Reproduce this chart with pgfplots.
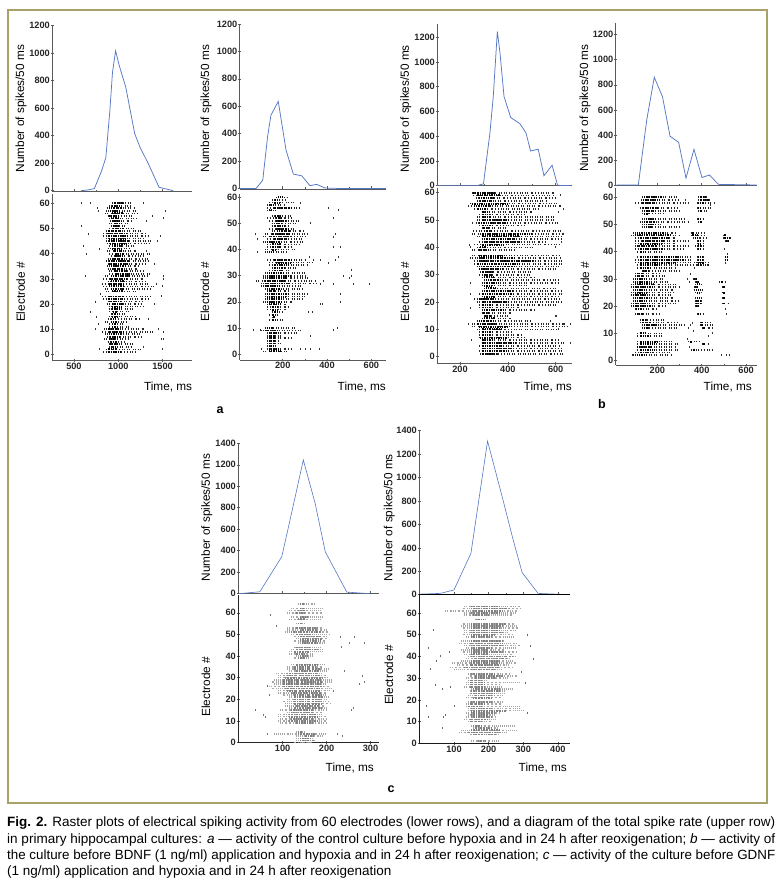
\documentclass[border=0pt]{standalone}
\usepackage{fontspec}
\setmainfont{Liberation Sans}
\usepackage{graphicx}
\usepackage{pgfplots}
\usepackage{pgfplotstable}
\pgfplotsset{compat=1.18}
\definecolor{frameol}{HTML}{A8A268}
\definecolor{rate}{HTML}{5578C4}
\pgfplotstableread[row sep=\\]{y a b c d\\
60 930 1140 950 1060\\ 59 890 1130 930 1020\\ 58 870 1180 900 1040\\ 57 860 1210 910 1020\\ 56 850 1230 930 1060\\
55 880 1180 900 1010\\ 54 900 1220 920 1000\\ 53 910 1150 930 1010\\ 52 890 1120 950 1040\\ 51 920 1080 940 1000\\
50 900 1180 940 1060\\ 49 860 1250 880 1030\\ 48 830 1320 870 1100\\ 47 830 1340 880 1110\\ 46 860 1300 900 1080\\
45 860 1380 900 1120\\ 44 870 1350 910 1090\\ 43 900 1200 950 1030\\ 42 880 1130 930 1040\\ 41 870 1200 950 1030\\
40 900 1360 960 1060\\ 39 920 1280 960 1050\\ 38 880 1330 930 1050\\ 37 860 1350 900 1130\\ 36 880 1320 900 1100\\
35 870 1250 920 1080\\ 34 880 1220 930 1060\\ 33 890 1300 950 1090\\ 32 900 1370 960 1130\\ 31 850 1340 920 1120\\
30 830 1300 910 1090\\ 29 880 1320 920 1060\\ 28 820 1340 900 1060\\ 27 830 1400 900 1060\\ 26 850 1370 920 1060\\
25 860 1200 930 1050\\ 23 820 1380 880 1070\\ 22 830 1370 880 1050\\ 21 880 1280 900 1030\\ 20 870 1270 930 1050\\
19 890 1300 930 1040\\ 18 890 1180 930 1020\\ 17 900 1120 940 990\\ 16 920 1080 930 1000\\ 15 890 1200 930 1000\\
14 880 1240 920 970\\ 13 850 1110 920 980\\ 12 900 1050 930 970\\ 11 900 1130 930 1000\\ 10 840 1290 880 1000\\
9 820 1400 890 1060\\ 8 850 1260 900 1020\\ 7 870 1290 910 1010\\ 6 840 1140 900 960\\ 5 880 1080 920 980\\
4 890 1180 910 990\\ 3 900 1150 920 970\\ 2 860 1250 880 990\\ 1 830 1200 880 1020\\
}\tabAa
\pgfplotstableread[row sep=\\]{y a b c d\\
60 170 220 180 200\\ 59 150 210 165 180\\ 58 140 250 160 190\\ 57 130 210 140 160\\ 56 130 280 160 240\\ 55 130 170 140 155\\
53 150 240 165 195\\ 52 130 250 170 200\\ 51 140 280 170 210\\ 50 150 260 170 200\\ 49 150 230 165 210\\ 48 140 260 170 230\\
47 150 300 175 235\\ 46 120 320 150 230\\ 45 110 310 140 230\\ 44 130 290 160 220\\ 43 110 300 130 190\\ 42 130 280 150 190\\
41 130 250 150 195\\ 40 120 260 150 170\\ 39 120 220 140 160\\ 36 130 300 160 240\\ 35 140 340 170 240\\ 34 140 310 160 230\\
33 150 270 160 210\\ 32 140 230 160 200\\ 31 120 300 140 210\\ 30 110 310 130 240\\ 29 110 320 130 220\\ 28 80 350 120 210\\
27 100 360 120 230\\ 26 100 290 120 190\\ 25 120 290 130 190\\ 24 130 230 140 170\\ 23 120 320 130 230\\ 22 120 300 130 210\\
21 120 290 130 200\\ 20 110 240 130 200\\ 19 130 220 140 190\\ 18 130 230 150 180\\ 17 130 220 150 180\\ 16 150 200 160 180\\
15 140 180 150 165\\ 14 150 170 155 165\\ 13 140 200 150 170\\ 10 120 260 130 160\\ 9 100 280 120 180\\ 8 130 270 140 180\\
7 130 190 140 170\\ 6 130 240 140 170\\ 5 130 180 140 170\\ 4 130 200 140 170\\ 3 130 170 140 160\\ 2 130 240 140 180\\ 1 110 220 140 190\\
}\tabAb
\pgfplotstableread[row sep=\\]{y a b c d\\
60 250 600 255 345\\ 59 255 590 270 370\\ 58 265 600 280 340\\ 57 270 560 285 330\\ 56 240 610 250 400\\ 55 235 620 260 330\\
54 260 530 270 310\\ 53 290 500 290 320\\ 52 280 480 290 320\\ 51 270 600 290 330\\ 50 270 600 290 400\\ 49 265 610 280 400\\
48 280 470 290 340\\ 47 290 400 295 320\\ 46 255 630 300 330\\ 45 250 630 290 500\\ 44 270 630 290 450\\ 43 290 630 300 430\\
42 280 560 300 450\\ 41 260 620 290 380\\ 40 270 510 285 310\\ 39 250 430 280 320\\ 37 250 620 280 380\\ 36 240 620 280 430\\
35 260 630 280 500\\ 34 260 630 270 450\\ 33 270 620 280 430\\ 32 280 600 280 380\\ 31 285 500 290 340\\ 30 280 500 300 330\\
29 290 520 300 340\\ 28 300 610 310 370\\ 27 290 610 300 360\\ 26 290 490 300 330\\ 25 300 600 310 350\\ 24 290 630 300 420\\
23 280 630 290 420\\ 22 290 610 300 350\\ 21 260 620 280 340\\ 20 270 630 290 400\\ 19 280 600 290 340\\ 18 280 450 290 330\\
17 290 520 300 380\\ 16 290 410 295 320\\ 15 300 400 305 330\\ 14 290 420 300 350\\ 13 270 500 280 340\\ 12 250 640 270 350\\
11 250 650 280 400\\ 10 270 620 290 370\\ 9 280 420 290 340\\ 8 280 460 290 320\\ 7 280 480 285 400\\ 6 290 620 290 340\\
5 290 640 290 430\\ 4 280 620 290 370\\ 3 290 630 290 420\\ 2 280 630 290 400\\ 1 285 630 290 350\\
}\tabBa
\pgfplotstableread[row sep=\\]{y a b c d\\
60 130 290 140 220\\ 60 385 430 390 420\\ 59 125 300 135 210\\ 59 385 440 390 430\\ 58 100 330 130 190\\ 58 380 440 385 415\\
56 120 290 135 200\\ 56 380 440 385 395\\ 55 130 300 140 180\\ 55 385 430 390 400\\ 54 130 230 140 160\\ 52 130 330 150 190\\
52 380 410 385 400\\ 51 120 340 140 190\\ 51 385 410 390 400\\ 50 130 220 150 190\\ 49 130 300 150 180\\ 47 90 290 110 230\\
47 350 420 355 370\\ 46 80 300 100 260\\ 46 350 420 355 380\\ 46 495 520 500 515\\ 45 100 290 120 250\\ 45 360 430 370 385\\
45 495 530 500 525\\ 44 100 340 130 230\\ 44 380 410 385 400\\ 44 505 530 510 525\\ 43 100 290 120 220\\ 43 380 410 385 395\\
42 100 340 110 200\\ 42 370 410 385 400\\ 41 100 320 120 230\\ 41 380 410 385 395\\ 40 110 220 120 150\\ 38 110 350 120 300\\
38 380 410 385 405\\ 38 505 520 507 515\\ 37 100 350 120 320\\ 37 380 410 385 405\\ 37 505 520 507 515\\ 36 100 410 120 280\\
36 380 430 385 410\\ 35 110 430 120 210\\ 35 380 420 385 400\\ 34 110 280 120 170\\ 33 130 300 135 160\\ 32 100 220 110 140\\
31 100 230 110 140\\ 30 90 230 100 150\\ 30 360 385 365 375\\ 29 90 250 100 160\\ 29 370 390 375 385\\ 29 480 510 485 495\\
28 80 290 100 180\\ 28 370 400 380 395\\ 27 80 300 90 180\\ 27 365 390 370 385\\ 27 490 510 495 505\\ 26 90 280 100 150\\
26 365 410 375 395\\ 25 80 280 100 150\\ 25 370 400 380 390\\ 25 490 510 495 505\\ 24 80 270 90 150\\ 23 90 280 100 160\\
23 370 400 380 395\\ 23 490 515 495 505\\ 22 90 300 100 150\\ 22 370 400 375 395\\ 21 80 290 90 150\\ 21 370 400 375 395\\
21 490 520 495 510\\ 20 80 240 90 170\\ 20 370 395 375 390\\ 19 100 200 105 130\\ 17 100 210 110 140\\ 17 380 410 385 395\\
15 120 230 130 150\\ 14 120 290 130 170\\ 14 390 440 395 405\\ 13 130 330 140 200\\ 13 390 450 395 405\\ 12 130 290 140 160\\
12 400 450 405 415\\ 10 110 220 120 150\\ 9 110 220 120 170\\ 7 110 270 120 200\\ 7 340 390 345 355\\ 6 110 290 120 190\\
6 400 430 405 415\\ 5 110 280 110 180\\ 4 110 300 120 190\\ 4 350 450 360 370\\ 3 100 260 120 180\\ 2 90 260 110 150\\
}\tabBb
\pgfplotstableread[row sep=\\]{y a b c d\\
64 135 175 140 150\\ 62 120 190 140 150\\ 61 115 185 135 150\\ 60 110 190 130 150\\ 58 120 190 140 155\\ 57 115 185 135 150\\
55 130 150 135 145\\ 53 110 190 130 180\\ 52 110 200 140 180\\ 51 105 205 120 190\\ 50 120 205 130 170\\ 49 125 200 135 190\\
48 130 200 140 190\\ 47 125 195 140 185\\ 46 135 195 145 180\\ 44 125 185 130 160\\ 43 120 190 130 180\\ 42 115 190 125 160\\
41 115 170 130 150\\ 40 130 170 140 155\\ 39 125 160 135 150\\ 36 120 195 130 180\\ 35 110 190 125 175\\ 34 110 205 125 185\\
33 115 200 130 185\\ 32 85 190 110 180\\ 31 90 200 110 185\\ 30 90 205 105 190\\ 29 80 210 100 185\\ 28 75 210 100 190\\
27 80 200 100 185\\ 26 70 210 100 190\\ 25 75 210 105 185\\ 24 90 210 110 185\\ 23 90 200 120 190\\ 22 100 200 125 190\\
21 115 205 125 195\\ 20 110 200 125 190\\ 19 100 205 125 190\\ 18 105 210 125 190\\ 17 105 195 130 185\\ 16 115 200 125 190\\
15 95 200 120 170\\ 14 110 190 120 170\\ 13 90 190 115 175\\ 12 90 200 115 180\\ 11 95 200 120 170\\ 10 90 200 115 180\\
9 95 200 130 170\\ 5 130 150 135 145\\ 4 80 200 135 175\\ 3 130 190 150 170\\ 2 130 170 140 165\\ 1 130 175 140 170\\ 0 125 165 135 165\\
}\tabCa
\pgfplotstableread[row sep=\\]{y a b c d\\
63 130 290 150 230\\ 62 125 290 150 260\\ 61 75 285 155 240\\ 60 130 280 150 230\\ 59 130 270 155 200\\ 57 160 190 165 185\\
55 125 275 150 250\\ 54 120 280 150 240\\ 53 125 285 150 230\\ 52 130 280 150 230\\ 51 130 260 150 240\\ 50 125 270 150 220\\
49 135 270 150 210\\ 47 120 250 150 240\\ 46 115 280 145 240\\ 45 130 290 150 240\\ 44 135 280 150 210\\ 43 120 250 150 200\\
42 125 280 150 240\\ 41 130 270 150 200\\ 40 140 280 150 270\\ 39 135 260 160 250\\ 38 120 270 150 230\\ 37 95 280 150 230\\
36 110 260 145 230\\ 35 90 270 130 230\\ 34 100 240 150 220\\ 32 140 260 150 220\\ 31 145 280 160 240\\ 30 135 255 160 220\\
29 140 200 145 180\\ 28 135 290 145 190\\ 27 135 230 145 190\\ 26 130 240 145 190\\ 25 150 270 155 230\\ 24 145 250 150 230\\
23 145 250 150 220\\ 22 140 240 160 210\\ 21 135 240 155 210\\ 19 140 240 150 210\\ 18 135 240 145 190\\ 17 135 290 140 180\\
16 140 290 150 210\\ 15 140 300 150 250\\ 14 135 230 150 220\\ 13 140 220 150 200\\ 12 135 220 150 210\\ 11 130 220 145 200\\
10 140 210 145 180\\ 8 150 280 155 180\\ 7 155 230 160 210\\ 6 120 280 150 230\\ 5 115 250 140 230\\ 4 145 230 155 220\\ 1 150 230 170 190\\
}\tabCb
\pgfplotsset{
 lo/.style={draw=black!85,line width=1.7pt,dash pattern=on 0.45pt off 1.9pt on 0.4pt off 3.1pt on 0.5pt off 1.2pt on 0.4pt off 2.6pt},
 hi/.style={draw=black,line width=1.9pt,dash pattern=on 0.8pt off 0.8pt on 0.5pt off 1.3pt on 1pt off 0.6pt on 0.4pt off 1.6pt},
 los/.style={draw=black!35,line width=1.5pt,dash pattern=on 0.3pt off 1.5pt on 0.3pt off 2.4pt on 0.35pt off 1.1pt on 0.3pt off 1.9pt},
 his/.style={draw=black!50,line width=1.6pt,dash pattern=on 0.35pt off 1.3pt on 0.35pt off 0.9pt on 0.4pt off 1.7pt on 0.35pt off 1.1pt},
 sp/.style={only marks,mark=|,mark size=1pt,mark options={line width=0.4pt,draw=black!80}},
 base/.style={scale only axis,anchor=north west,axis x line=bottom,axis y line=left,
  axis line style={-,draw=black!65,line width=0.7pt},
  tick style={draw=black!65,line width=0.5pt},major tick length=2.5pt,minor tick length=1.5pt,
  minor x tick num=1,
  tick label style={font=\fontsize{9.2}{10}\selectfont\bfseries,text=black!85,inner sep=1pt},
  /pgf/number format/assume math mode=true,/pgf/number format/1000 sep={}},
 ratep/.style={base,ytick distance=200,xticklabels={},xtick align=inside,ylabel={Number of spikes/50 ms}},
 rast/.style={base,ytick distance=10,minor y tick num=1,ylabel={Electrode \#},xlabel={Time, ms}},
 yl/.style 2 args={every axis y label/.style={at={(axis description cs:0,0.5)},xshift=#1pt,yshift=#2pt,rotate=90,anchor=center,font=\fontsize{11.8}{13}\selectfont}},
 xl/.style 2 args={every axis x label/.style={at={(axis description cs:1,0)},anchor=east,inner sep=0pt,xshift=#1pt,yshift=#2pt,font=\fontsize{11.8}{13}\selectfont}},
 rateline/.style={rate,line width=0.75pt,no marks},
}
\newcommand{\rasterbands}[3]{%
 \addplot[#2,quiver={u={\thisrow{b}-\thisrow{a}},v=0}] table[x=a,y=y]{#1};
 \addplot[#3,quiver={u={\thisrow{d}-\thisrow{c}},v=0}] table[x=c,y=y]{#1};
}
\begin{document}
\begin{tikzpicture}[x=1pt,y=1pt]
\path[use as bounding box,fill=white] (0,0) rectangle (777,890);
\draw[frameol,line width=1.6pt] (8,880) rectangle (767,87);
% a1
\begin{axis}[ratep,at={(52.3pt,864.7pt)},width=140pt,height=166.4pt,xmin=256,xmax=1835,ymin=-7,ymax=1200,xtick={500,1000,1500},yl={-31.3}{0}]
\addplot[rateline] coordinates {(580,0)(650,5)(730,15)(810,140)(860,240)(905,580)(935,860)(970,1015)(1010,910)(1085,750)(1185,415)(1245,315)(1340,195)(1460,25)(1620,0)};
\end{axis}
\begin{axis}[rast,at={(52.3pt,696pt)},width=140pt,height=166.7pt,xmin=256,xmax=1835,ymin=-2.5,ymax=63.7,xtick={500,1000,1500},yl={-31.6}{-14.7},xl={0}{-26.3}]
\rasterbands{\tabAa}{lo}{hi}
\addplot[sp] coordinates {(580,60)(680,60)(1280,60)(775,57)(1525,57)(1505,54)(585,51)(660,48)(600,43)(640,40)(630,31)(1505,31)(1505,30)(1490,27)(1480,23)(735,21)(680,17)(755,15)(735,10)(1450,10)(1505,9)(1480,6)(1505,6)(1490,2)(1280,3)(790,2)(1470,47)(1320,53)(1380,55)(1320,41)(760,58)(1400,36)(1430,28)(780,42)(1440,45)(1410,20)(800,24)(770,12)(1340,14)};
\end{axis}
% a2
\begin{axis}[ratep,at={(239.7pt,866pt)},width=146.3pt,height=165pt,xmin=6,xmax=666,ymin=-4,ymax=1200,xtick={200,400,600},yl={-33.7}{-2}]
\addplot[rateline] coordinates {(6,0)(80,0)(110,60)(132,380)(147,535)(180,635)(215,280)(248,105)(286,92)(323,20)(353,30)(391,3)(450,0)(666,0)};
\end{axis}
\begin{axis}[rast,at={(239.7pt,696pt)},width=146.3pt,height=166pt,xmin=6,xmax=666,ymin=-2.3,ymax=61.3,xtick={200,400,600},yl={-34.7}{-15},xl={0}{-27}]
\rasterbands{\tabAb}{lo}{hi}
\addplot[sp] coordinates {(278,58)(451,55)(428,52)(406,56)(323,50)(436,46)(430,45)(428,41)(459,41)(83,39)(75,46)(83,44)(451,37)(436,36)(406,35)(368,36)(338,36)(320,37)(511,32)(474,30)(511,30)(500,29)(519,27)(591,27)(428,27)(383,28)(368,27)(459,23)(459,20)(368,19)(378,19)(331,16)(316,16)(444,10)(428,9)(68,9)(98,9)(323,7)(301,2)(323,2)(365,2)(105,2)(278,2)};
\end{axis}
% b1
\begin{axis}[ratep,at={(437.3pt,866pt)},width=134.4pt,height=161.7pt,xmin=105,xmax=667,ymin=0,ymax=1306,xtick={200,400,600},yl={-31.6}{-3.9}]
\addplot[rateline] coordinates {(105,0)(270,0)(298,15)(325,425)(339,720)(356,1245)(367,1075)(384,720)(412,550)(451,500)(476,425)(495,280)(527,295)(551,80)(585,165)(608,3)(667,0)};
\end{axis}
\begin{axis}[rast,at={(437.3pt,701.7pt)},width=134.4pt,height=175pt,xmin=105,xmax=667,ymin=-2.4,ymax=61.6,xtick={200,400,600},yl={-32.3}{-16},xl={0.3}{-23.7}]
\rasterbands{\tabBa}{lo}{hi}
\addplot[sp] coordinates {(660,5)(660,12)(632,12)(611,10)(235,12)(242,23)(242,27)(242,18)(239,41)(242,40)(245,6)(632,45)(625,42)(597,40)(604,15)(597,15)(618,59)(585,58)(632,54)(611,53)(249,49)(548,12)(576,13)};
\end{axis}
% b2
\begin{axis}[ratep,at={(615.7pt,866.7pt)},width=141pt,height=162.2pt,xmin=12,xmax=648,ymin=-4,ymax=1291,xtick={200,400,600},yl={-30.7}{-3.6}]
\addplot[rateline] coordinates {(17,0)(114,0)(152,520)(186,860)(223,705)(257,390)(296,340)(329,55)(365,285)(401,60)(435,80)(475,5)(648,0)};
\end{axis}
\begin{axis}[rast,at={(615.7pt,701.7pt)},width=141pt,height=176.7pt,xmin=12,xmax=648,ymin=-1.6,ymax=63.3,xtick={200,400,600},yl={-30.7}{-15},xl={-4.7}{-22}]
\rasterbands{\tabBb}{lo}{hi}
\addplot[sp] coordinates {(440,57)(455,58)(325,59)(340,58)(510,17)(505,19)(350,13)(360,11)(335,8)(345,5)(510,2)(525,2)(490,2)(85,2)(430,9)(445,10)(335,30)(350,32)(365,34)(345,29)(500,41)(515,39)(505,36)(340,12)(355,14)};
\end{axis}
% c1
\begin{axis}[ratep,at={(238.3pt,446.7pt)},width=141pt,height=150.4pt,xmin=-1,xmax=320,ymin=0,ymax=1400,xtick={100,200,300},yl={-31.6}{1}]
\addplot[rateline,line width=0.6pt] coordinates {(0,0)(48,18)(98,345)(117,690)(147,1245)(174,840)(197,390)(246,15)(270,8)(300,0)};
\end{axis}
\begin{axis}[rast,at={(238.3pt,295pt)},width=141pt,height=147.7pt,xmin=-1,xmax=320,ymin=0,ymax=68.2,xtick={100,200,300},yl={-32.3}{-18},xl={-5.3}{-25.3},axis line style={-,draw=black!85,line width=0.8pt}]
\rasterbands{\tabCa}{los}{his}
\addplot[sp,mark options={line width=0.3pt,draw=black!55}] coordinates {(72,59)(85,54)(230,49)(262,49)(252,46)(285,46)(232,44)(240,33)(280,31)(273,27)(285,28)(260,16)(255,15)(38,15)(55,13)(60,12)(65,4)(225,4)(235,3)(70,22)(215,24)(65,26)};
\end{axis}
% c2
\begin{axis}[ratep,at={(419.3pt,459.3pt)},width=150.7pt,height=164pt,xmin=0,xmax=435,ymin=0,ymax=1400,xtick={100,200,300,400},yl={-30}{-5}]
\addplot[rateline,line width=0.6pt] coordinates {(2,5)(60,11)(100,40)(149,353)(197,1311)(238,850)(271,467)(297,188)(343,11)(367,8)(435,0)};
\draw[black,line width=1.3pt] (axis cs:0,0) -- (axis cs:435,0);
\end{axis}
\begin{axis}[rast,at={(419.3pt,295pt)},width=150.7pt,height=148.3pt,xmin=0,xmax=435,ymin=0,ymax=68.3,xtick={100,200,300,400},yl={-30.3}{-6},xl={-3}{-24.7},axis line style={-,draw=black!90,line width=1pt}]
\rasterbands{\tabCb}{los}{his}
\addplot[sp,mark options={line width=0.3pt,draw=black!60}] coordinates {(40,52)(25,44)(60,40)(85,42)(50,38)(30,34)(320,45)(330,39)(310,50)(45,27)(65,25)(90,26)(20,17)(25,12)(70,12)(65,7)(100,17)(75,13)(295,33)(305,28)(310,14)};
\end{axis}
\node[font=\fontsize{12.5}{14}\selectfont\bfseries] at (220,480) {a};
\node[font=\fontsize{12.5}{14}\selectfont\bfseries] at (602,486) {b};
\node[font=\fontsize{12.5}{14}\selectfont\bfseries] at (391,101) {c};
\begin{scope}[every node/.style={anchor=base west,inner sep=0pt,font=\fontsize{13.5}{16}\selectfont}]
\node at (7,63) {\resizebox{768pt}{!}{\textbf{Fig. 2.} Raster plots of electrical spiking activity from 60 electrodes (lower rows), and a diagram of the total spike rate (upper row)}};
\node at (7,46.7) {\resizebox{768pt}{!}{in primary hippocampal cultures: \textit{a} — activity of the control culture before hypoxia and in 24 h after reoxigenation; \textit{b} — activity of}};
\node at (7,30.7) {\resizebox{768pt}{!}{the culture before BDNF (1 ng/ml) application and hypoxia and in 24 h after reoxigenation; \textit{c} — activity of the culture before GDNF}};
\node at (7,14.3) {(1 ng/ml) application and hypoxia and in 24 h after reoxigenation};
\end{scope}
\end{tikzpicture}
\end{document}
